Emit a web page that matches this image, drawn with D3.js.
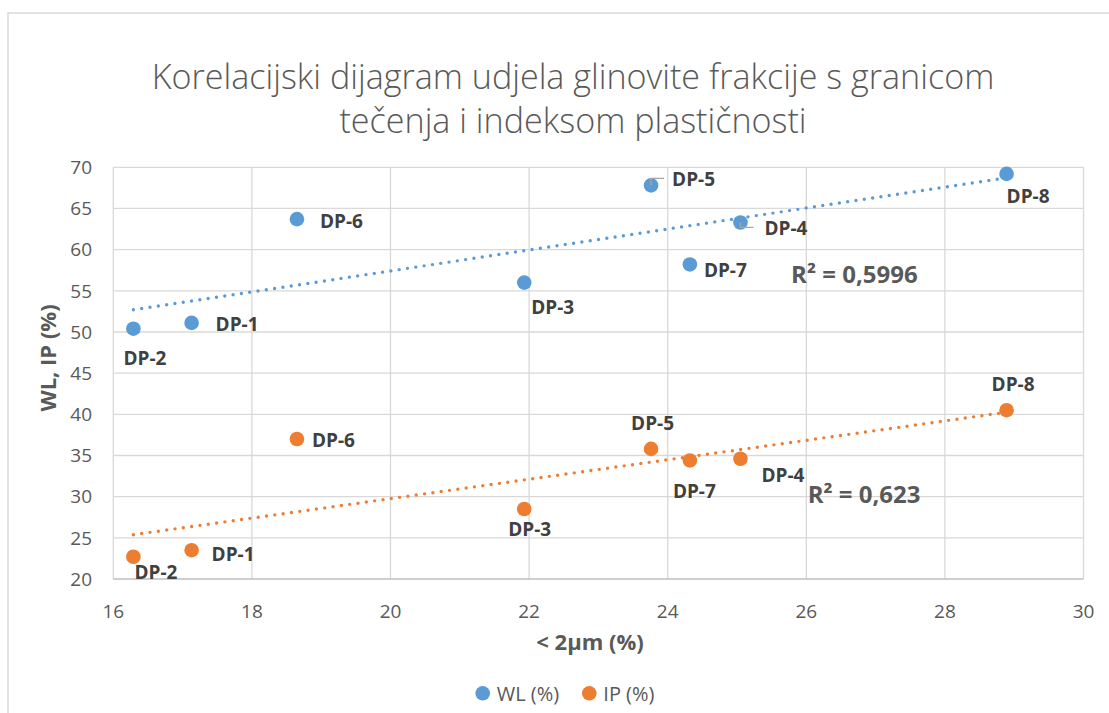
<!DOCTYPE html>
<html>
<head>
<meta charset="utf-8">
<title>Korelacijski dijagram</title>
<style>
  body { margin: 0; background: #fff; }
  svg { display: block; font-family: "Open Sans", sans-serif; }
</style>
</head>
<body>
<script src="https://d3js.org/d3.v7.min.js"></script>
<script>
// sample data
var samples = ["DP-1", "DP-2", "DP-3", "DP-4", "DP-5", "DP-6", "DP-7", "DP-8"];
var clay = [17.13, 16.29, 21.93, 25.05, 23.76, 18.65, 24.32, 28.89];
var wl = [51.1, 50.4, 56.0, 63.3, 67.8, 63.7, 58.2, 69.2];
var ip = [23.5, 22.7, 28.5, 34.6, 35.8, 37.0, 34.4, 40.5];
var xTicks = [16, 18, 20, 22, 24, 26, 28, 30];
var yTicks = [20, 25, 30, 35, 40, 45, 50, 55, 60, 65, 70];
var seriesNames = ["WL (%)", "IP (%)"];
var r2Text = ["R² = 0,5996", "R² = 0,623"];
var r2Pos = [[25.78, 56.0], [26.02, 29.2]];   // where the R² text sits, in data units

// label offsets (px from the marker) as Excel had them dragged
var labelOffWL = [[24, 8], [-10, 36], [7, 31], [24, 13], [21, 1], [23, 9], [14, 13], [0, 29]];
var labelOffIP = [[20, 11], [1, 22], [-16, 27], [21, 23], [-20, -19], [15, 8], [-17, 38], [-15, -19]];

var width = 1109, height = 713;
var blue = "#5B9BD5", orange = "#ED7D31";

var svg = d3.select("body").append("svg")
  .attr("width", width)
  .attr("height", height);

// chart area border
svg.append("rect")
  .attr("x", 8).attr("y", 13)
  .attr("width", 1200).attr("height", 800)
  .attr("fill", "#fff")
  .attr("stroke", "#d9d9d9")
  .attr("stroke-width", 1.5);

var x = d3.scaleLinear().domain([16, 30]).range([113.3, 1083.5]);
var y = d3.scaleLinear().domain([20, 70]).range([579, 167.3]);

// gridlines
svg.append("g").selectAll("line").data(yTicks.slice(1)).enter().append("line")
  .attr("x1", x(16)).attr("x2", x(30))
  .attr("y1", function(d) { return y(d); })
  .attr("y2", function(d) { return y(d); })
  .attr("stroke", "#d9d9d9").attr("stroke-width", 1.3);

svg.append("g").selectAll("line").data(xTicks).enter().append("line")
  .attr("x1", function(d) { return x(d); })
  .attr("x2", function(d) { return x(d); })
  .attr("y1", y(20)).attr("y2", y(70))
  .attr("stroke", "#d9d9d9").attr("stroke-width", 1.3);

// x axis line
svg.append("line")
  .attr("x1", x(16)).attr("x2", x(30))
  .attr("y1", y(20)).attr("y2", y(20))
  .attr("stroke", "#bfbfbf").attr("stroke-width", 1.5);

// tick labels
svg.append("g").selectAll("text").data(yTicks).enter().append("text")
  .attr("x", 92)
  .attr("y", function(d) { return y(d) + 6.8; })
  .attr("text-anchor", "end")
  .attr("font-size", 19)
  .attr("fill", "#595959")
  .text(function(d) { return d; });

svg.append("g").selectAll("text").data(xTicks).enter().append("text")
  .attr("x", function(d) { return x(d); })
  .attr("y", 618)
  .attr("text-anchor", "middle")
  .attr("font-size", 19)
  .attr("fill", "#595959")
  .text(function(d) { return d; });

// axis titles
svg.append("text")
  .attr("x", 590).attr("y", 650)
  .attr("text-anchor", "middle")
  .attr("font-size", 22).attr("font-weight", "bold")
  .attr("fill", "#595959")
  .text("< 2µm (%)");

svg.append("text")
  .attr("transform", "translate(56,358) rotate(-90)")
  .attr("text-anchor", "middle")
  .attr("font-size", 22).attr("font-weight", "bold")
  .attr("fill", "#595959")
  .text("WL, IP (%)");

// title, fitted to the width it had
var titleLines = ["Korelacijski dijagram udjela glinovite frakcije s granicom", "tečenja i indeksom plastičnosti"];
var title = svg.append("g").selectAll("text").data(titleLines).enter().append("text")
  .attr("x", 573)
  .attr("y", function(d, i) { return 89 + i * 44; })
  .attr("text-anchor", "middle")
  .attr("font-size", 30).attr("font-weight", 300)
  .attr("fill", "#595959")
  .text(function(d) { return d; });
var w0 = title.nodes()[0].getComputedTextLength();
title.attr("font-size", 30 * 843 / w0);

// least squares trendline
function fit(xs, ys) {
  var mx = d3.mean(xs), my = d3.mean(ys);
  var sxy = d3.sum(xs, function(v, i) { return (v - mx) * (ys[i] - my); });
  var sxx = d3.sum(xs, function(v) { return (v - mx) * (v - mx); });
  var b = sxy / sxx;
  return function(v) { return my + b * (v - mx); };
}

function drawSeries(vals, color, offsets, r2, r2xy) {
  var f = fit(clay, vals);
  var x0 = d3.min(clay), x1 = d3.max(clay);
  svg.append("line")
    .attr("x1", x(x0)).attr("y1", y(f(x0)))
    .attr("x2", x(x1)).attr("y2", y(f(x1)))
    .attr("stroke", color)
    .attr("stroke-width", 3.4)
    .attr("stroke-linecap", "round")
    .attr("stroke-dasharray", "0 8.4");

  var pts = clay.map(function(c, i) { return { x: c, y: vals[i], name: samples[i], off: offsets[i] }; });

  svg.append("g").selectAll("circle").data(pts).enter().append("circle")
    .attr("cx", function(d) { return x(d.x); })
    .attr("cy", function(d) { return y(d.y); })
    .attr("r", 7.3)
    .attr("fill", color);

  svg.append("g").selectAll("text").data(pts).enter().append("text")
    .attr("x", function(d) { return x(d.x) + d.off[0]; })
    .attr("y", function(d) { return y(d.y) + d.off[1]; })
    .attr("font-size", 19).attr("font-weight", "bold")
    .attr("fill", "#404040")
    .text(function(d) { return d.name; });

  svg.append("text")
    .attr("x", x(r2xy[0])).attr("y", y(r2xy[1]))
    .attr("font-size", 24).attr("font-weight", "bold")
    .attr("fill", "#595959")
    .text(r2);

  return pts;
}

var wlPts = drawSeries(wl, blue, labelOffWL, r2Text[0], r2Pos[0]);
drawSeries(ip, orange, labelOffIP, r2Text[1], r2Pos[1]);

// leader lines for the two WL labels that were dragged off
[wlPts[4], wlPts[3]].forEach(function(d, k) {
  var px = x(d.x), py = y(d.y);
  var ly = k === 0 ? py - 7 : py + 5;
  svg.append("polyline")
    .attr("points", [[px, py], [px, ly], [px + 13, ly]].join(" "))
    .attr("fill", "none")
    .attr("stroke", "#a6a6a6")
    .attr("stroke-width", 1.3);
});

// legend
var legend = svg.append("g").selectAll("g").data(seriesNames).enter().append("g")
  .attr("transform", function(d, i) { return "translate(" + (482.7 + i * 106.6) + ",693.3)"; });
legend.append("circle")
  .attr("r", 7.3)
  .attr("fill", function(d, i) { return i === 0 ? blue : orange; });
legend.append("text")
  .attr("x", 14).attr("y", 7.5)
  .attr("font-size", 20)
  .attr("fill", "#595959")
  .text(function(d) { return d; });
</script>
</body>
</html>
